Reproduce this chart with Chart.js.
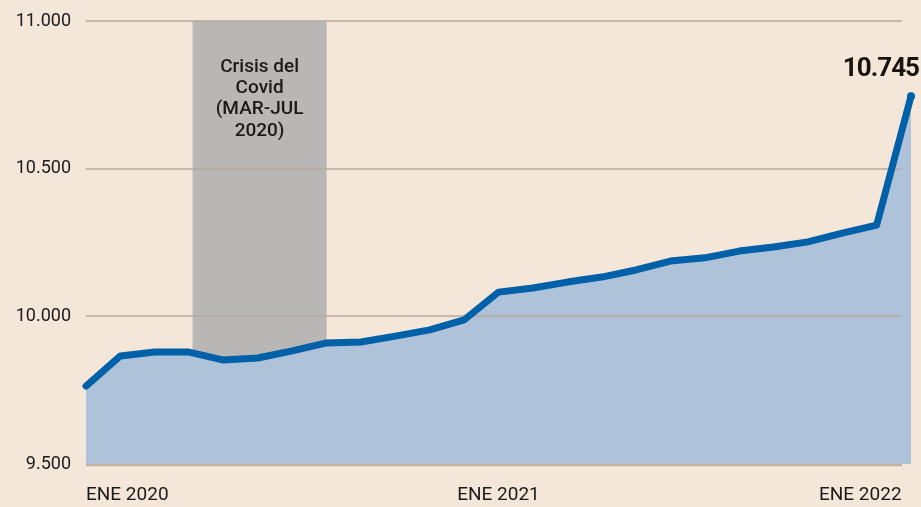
<!DOCTYPE html>
<html>
<head>
<meta charset="utf-8">
<script src="https://cdn.jsdelivr.net/npm/chart.js@4/dist/chart.umd.min.js"></script>
<style>
  html, body { margin: 0; padding: 0; background: #f5e6da; }
  #wrap { width: 921px; height: 507px; }
</style>
</head>
<body>
<div id="wrap"><canvas id="chart"></canvas></div>
<script>
var months = ['ENE 2020','FEB 2020','MAR 2020','ABR 2020','MAY 2020','JUN 2020','JUL 2020','AGO 2020','SEP 2020','OCT 2020','NOV 2020','DIC 2020',
              'ENE 2021','FEB 2021','MAR 2021','ABR 2021','MAY 2021','JUN 2021','JUL 2021','AGO 2021','SEP 2021','OCT 2021','NOV 2021','DIC 2021',
              'ENE 2022'];
var values = [9764, 9866, 9879, 9879, 9852, 9859, 9883, 9910, 9913, 9933, 9954, 9988,
              10082, 10096, 10116, 10133, 10157, 10187, 10198, 10221, 10235, 10252, 10282, 10309,
              10745];
var yTicks = [9500, 10000, 10500, 11000];
var covidStart = 3.1, covidEnd = 7;   // position of the shaded band on the month axis
var covidText = ['Crisis del', 'Covid', '(MAR-JUL', '2020)'];

function fmt(v) {
  var s = String(Math.round(v));
  return s.replace(/\B(?=(\d{3})+(?!\d))/g, '.');
}

var FONT = 'Roboto, "Liberation Sans", sans-serif';

var bgPlugin = {
  id: 'bg',
  beforeDraw: function(chart) {
    var ctx = chart.ctx;
    ctx.save();
    ctx.fillStyle = '#f5e6da';
    ctx.fillRect(0, 0, chart.width, chart.height);
    ctx.restore();
  },
  beforeDatasetsDraw: function(chart) {
    // covid band, sits under the area fill
    var ctx = chart.ctx, x = chart.scales.x, y = chart.scales.y;
    var x0 = x.getPixelForValue(covidStart), x1 = x.getPixelForValue(covidEnd);
    var top = y.getPixelForValue(11000), bot = y.getPixelForValue(9500);
    ctx.save();
    ctx.fillStyle = '#b9b7b5';
    ctx.fillRect(x0, top, x1 - x0, bot - top);
    ctx.fillStyle = '#1c1a18';
    ctx.font = '500 19px ' + FONT;
    ctx.textAlign = 'center';
    ctx.textBaseline = 'middle';
    covidText.forEach(function(t, i) {
      ctx.fillText(t, (x0 + x1) / 2, 67 + i * 21.3);
    });
    ctx.restore();
  },
  beforeDatasetDraw: function(chart, args) {
    // gridlines go over the fill but under the line
    if (args.index !== 0) return;
    var ctx = chart.ctx, y = chart.scales.y;
    var left = chart.chartArea.left, right = chart.chartArea.right - 9;
    ctx.save();
    yTicks.forEach(function(v) {
      var py = Math.round(y.getPixelForValue(v));
      ctx.strokeStyle = v === 9500 ? '#c4b2a3' : '#b7a99c';
      ctx.lineWidth = v === 9500 ? 2.5 : 1.3;
      ctx.beginPath();
      ctx.moveTo(left, py + (v === 9500 ? 1 : 0));
      ctx.lineTo(right, py + (v === 9500 ? 1 : 0));
      ctx.stroke();
    });
    ctx.restore();
  },
  afterDatasetsDraw: function(chart) {
    var ctx = chart.ctx, x = chart.scales.x, y = chart.scales.y;
    var last = values.length - 1;
    var px = x.getPixelForValue(last), py = y.getPixelForValue(values[last]);
    ctx.save();
    ctx.fillStyle = '#1a140e';
    ctx.font = 'bold 26px ' + FONT;
    ctx.letterSpacing = '-1px';
    ctx.textAlign = 'right';
    ctx.textBaseline = 'middle';
    ctx.fillText(fmt(values[last]), px + 8, py - 27);
    ctx.restore();
  }
};

var config = {
  type: 'line',
  data: {
    labels: months,
    datasets: [{
      data: values,
      borderColor: '#0060a8',
      borderWidth: 7,
      borderCapStyle: 'round',
      borderJoinStyle: 'round',
      tension: 0,
      fill: false,
      pointRadius: values.map(function(v, i) { return i === values.length - 1 ? 4 : 0; }),
      pointBackgroundColor: '#0060a8',
      pointBorderWidth: 0
    }, {
      data: values,
      borderWidth: 0,
      pointRadius: 0,
      tension: 0,
      fill: 'start',
      backgroundColor: '#aec3da'
    }]
  },
  options: {
    responsive: true,
    maintainAspectRatio: false,
    animation: false,
    layout: { padding: { top: 21, right: 10, left: 0, bottom: 0 } },
    plugins: {
      legend: { display: false },
      tooltip: { enabled: false }
    },
    scales: {
      x: {
        grid: { display: false, drawTicks: false },
        border: { display: false },
        afterFit: function(s) { s.height = 43; s.paddingLeft = 0; s.paddingRight = 0; },
        ticks: {
          autoSkip: false,
          maxRotation: 0,
          align: 'inner',
          padding: 20,
          color: '#1c1a18',
          font: { family: FONT, size: 19 },
          callback: function(v, i) {
            if (i % 12 !== 0) return '';
            // last label stops at the gridline end, not the chart edge
            return i === months.length - 1 ? months[i] + '  ' : months[i];
          }
        }
      },
      y: {
        min: 9500,
        max: 11000,
        grid: { display: false, drawTicks: false },
        border: { display: false },
        afterFit: function(s) { s.width = 86; s.paddingTop = 0; s.paddingBottom = 0; },
        afterBuildTicks: function(s) { s.ticks = yTicks.map(function(v) { return { value: v }; }); },
        ticks: {
          padding: 15,
          color: '#1c1a18',
          font: { family: FONT, size: 18 },
          callback: function(v) { return fmt(v); }
        }
      }
    }
  },
  plugins: [bgPlugin]
};

new Chart(document.getElementById('chart'), config);
</script>
</body>
</html>
